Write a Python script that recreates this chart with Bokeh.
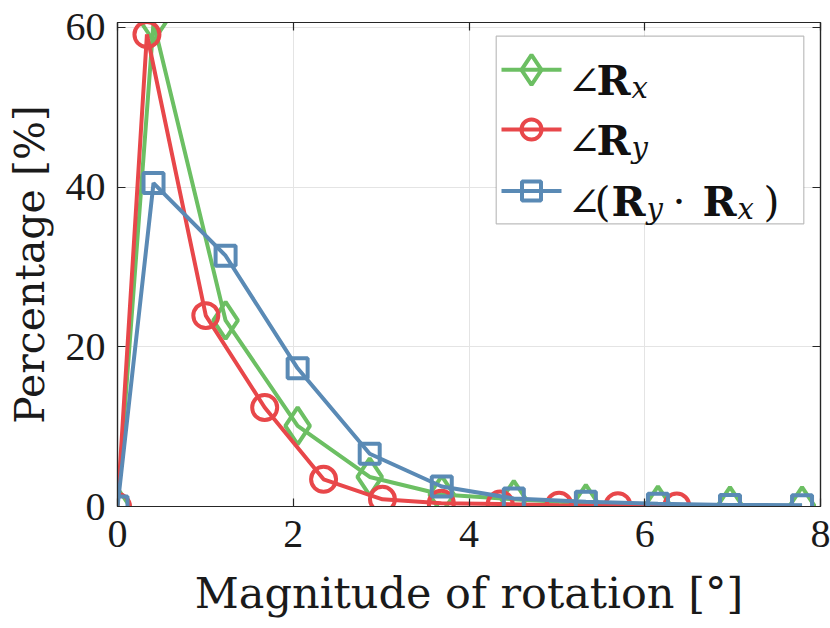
from bokeh.plotting import figure
from bokeh.models import Range1d, LinearAxis, FixedTicker, BoxAnnotation, Label, CustomJSTickFormatter
from bokeh.embed import file_html
from bokeh.resources import INLINE

# ---------------- data ----------------
rx_x = [0, 0.41, 1.23, 2.05, 2.87, 3.69, 4.51, 5.33, 6.15, 6.97, 7.79]
rx_y = [0, 60.6, 23.3, 10.1, 3.7, 1.5, 0.9, 0.4, 0.2, 0.1, 0.1]

ry_x = [0, 0.335, 1.005, 1.675, 2.345, 3.015, 3.685, 4.355, 5.025, 5.695, 6.365]
ry_y = [0, 59.1, 23.9, 12.4, 3.4, 0.9, 0.4, 0.3, 0.15, 0.1, 0.05]

ryx_x = [0, 0.41, 1.23, 2.05, 2.87, 3.69, 4.51, 5.33, 6.15, 6.97, 7.79]
ryx_y = [0, 40.5, 31.4, 17.3, 6.6, 2.5, 1.0, 0.6, 0.35, 0.2, 0.15]

x_ticks = [0, 2, 4, 6, 8]
y_ticks = [0, 20, 40, 60]
x_label = "Magnitude of rotation [°]"
y_label = "Percentage [%]"

GREEN = "#6cbf63"
RED = "#e8474a"
BLUE = "#5a8ab5"
AX = "#262626"
FONT = "DejaVu Serif"
TICKFONT = "Liberation Serif"

p = figure(width=830, height=628, x_range=Range1d(0, 8), y_range=Range1d(0, 60.6),
           output_backend="svg", toolbar_location=None,
           min_border_left=117, min_border_right=10, min_border_top=22, min_border_bottom=122,
           background_fill_color="white", border_fill_color="white")
p.outline_line_color = AX
p.outline_line_width = 1.2

# frame-fraction coordinates for the legend
p.extra_x_ranges = {"fx": Range1d(0, 1)}
p.extra_y_ranges = {"fy": Range1d(0, 1)}

for ax, ticks in ((p.xaxis, x_ticks), (p.yaxis, y_ticks)):
    ax.ticker = FixedTicker(ticks=ticks)
    ax.major_tick_in = 8
    ax.major_tick_out = 0
    ax.minor_tick_in = 0
    ax.minor_tick_out = 0
    ax.axis_line_color = AX
    ax.axis_line_width = 1.2
    ax.major_tick_line_color = AX
    ax.major_tick_line_width = 1.2
    ax.major_label_text_font = TICKFONT
    ax.major_label_text_font_size = "40px"
    ax.major_label_text_color = "#1a1a1a"
    ax.axis_label_text_font = FONT
    ax.axis_label_text_font_style = "normal"
    ax.axis_label_text_color = "#1a1a1a"

p.xaxis.axis_label = x_label
p.yaxis.axis_label = y_label
p.xaxis.axis_label_text_font_size = "43px"
p.yaxis.axis_label_text_font_size = "41px"
p.xaxis.major_label_standoff = 14
p.yaxis.major_label_standoff = 12
p.xaxis.axis_label_standoff = 18
p.yaxis.axis_label_standoff = 9

for loc, ticks in (("above", x_ticks), ("right", y_ticks)):
    a = LinearAxis(ticker=FixedTicker(ticks=ticks),
                   formatter=CustomJSTickFormatter(code="return ''"),
                   major_tick_in=8, major_tick_out=0, minor_tick_in=0, minor_tick_out=0,
                   major_label_text_font_size="0px", major_label_standoff=0,
                   axis_line_color=AX, axis_line_width=1.2,
                   major_tick_line_color=AX, major_tick_line_width=1.2)
    p.add_layout(a, loc)

p.grid.grid_line_color = "#e4e4e4"
p.grid.grid_line_width = 1
p.xgrid.ticker = FixedTicker(ticks=x_ticks)
p.ygrid.ticker = FixedTicker(ticks=y_ticks)

# ---------------- series ----------------
LW = 4
p.line(rx_x, rx_y, line_color=GREEN, line_width=LW)
p.scatter(rx_x, rx_y, marker="diamond", size=37, fill_color=None, line_color=GREEN, line_width=LW)
p.line(ry_x, ry_y, line_color=RED, line_width=LW)
p.scatter(ry_x, ry_y, marker="circle", size=25, fill_color=None, line_color=RED, line_width=LW)
p.line(ryx_x, ryx_y, line_color=BLUE, line_width=LW)
p.scatter(ryx_x, ryx_y, marker="square", size=20, fill_color=None, line_color=BLUE, line_width=LW)

# ---------------- custom legend (positions measured in reference pixels) ----------------
FL, FR, FT, FB = 117.0, 820.0, 22.0, 506.0
def fx(px):
    return (px - FL) / (FR - FL)
def fy(py):
    return (FB - py) / (FB - FT)

box = BoxAnnotation(left=fx(495.7), right=fx(803.3), top=fy(35.7), bottom=fy(223.3),
                    x_range_name="fx", y_range_name="fy", level="underlay",
                    fill_color="white", fill_alpha=1.0, line_color=AX, line_width=1.2)
p.add_layout(box)

rows = [(69.3, GREEN, "diamond", 30), (129.0, RED, "circle", 20), (190.5, BLUE, "square", 19)]
for cy, col, mk, sz in rows:
    p.line([fx(501), fx(561)], [fy(cy), fy(cy)], x_range_name="fx", y_range_name="fy",
           line_color=col, line_width=LW)
    p.scatter([fx(531)], [fy(cy)], x_range_name="fx", y_range_name="fy", marker=mk, size=sz,
              fill_color=None, line_color=col, line_width=LW)

def piece(txt, px, py, size, style="normal"):
    p.add_layout(Label(x=fx(px), y=fy(py), x_range_name="fx", y_range_name="fy", text=txt,
                       text_font=FONT, text_font_size=f"{size}px", text_font_style=style,
                       text_color="#111111", text_align="left", text_baseline="alphabetic"))

# row 1: angle R_x
piece("∠", 567, 80.5, 40)
piece("R", 596, 80.5, 41, "bold")
piece("x", 631, 87.5, 29, "italic")
# row 2: angle R_y
piece("∠", 567, 140.5, 40)
piece("R", 596, 140.5, 41, "bold")
piece("y", 631, 147.5, 29, "italic")
# row 3: angle (R_y . R_x)
piece("∠", 567, 201, 40)
piece("(", 594, 201, 41)
piece("R", 611, 201, 41, "bold")
piece("y", 646, 208, 29, "italic")
piece("·", 672, 201, 41)
piece("R", 702, 201, 41, "bold")
piece("x", 737, 208, 29, "italic")
piece(")", 763, 201, 41)

open("out.html", "w").write(file_html(p, INLINE))
